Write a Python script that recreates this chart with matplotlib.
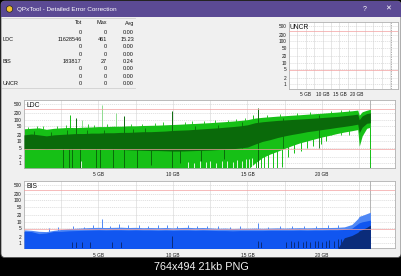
import numpy as np
import matplotlib.pyplot as plt
from matplotlib.patches import FancyBboxPatch, Rectangle, Circle
from matplotlib.ticker import NullLocator

plt.rcParams['font.family'] = ['Liberation Sans', 'DejaVu Sans']

# ---- data ----
tbl_names = ['', 'LDC', '', '', 'BIS', '', '', 'UNCR']
tbl_tot = ['0', '11628546', '0', '0', '183817', '0', '0', '0']
tbl_max = ['0', '461', '0', '0', '27', '0', '0', '0']
tbl_avg = ['0.00', '15.23', '0.00', '0.00', '0.24', '0.00', '0.00', '0.00']

ytick_vals = [1, 2, 5, 10, 20, 50, 100, 200, 500]
ytick_labels = ['1', '2', '5', '10', '20', '50', '100', '200', '500']
xtick_vals = [5, 10, 15, 20]
xtick_labels = ['5 GB', '10 GB', '15 GB', '20 GB']
limit_lines = [300, 4.5]

# position on disc (GB)
gb = [0.0, 0.5, 1.0, 1.5, 2.0, 2.5, 3.0, 3.5, 4.0, 4.5, 5.0, 5.5, 6.0, 6.5,
      7.0, 7.5, 8.0, 8.5, 9.0, 9.5, 10.0, 10.5, 11.0, 11.5, 12.0, 12.5, 13.0,
      13.5, 14.0, 14.5, 15.0, 15.5, 16.0, 16.5, 17.0, 17.5, 18.0, 18.5, 19.0,
      19.5, 20.0, 20.5, 21.0, 21.5, 22.0, 22.4, 22.5, 22.7, 23.0, 23.25]

# LDC light green band (max) and dark green band (avg)
ldc_top = [38, 40, 42, 36, 40, 42, 44, 43, 45, 46, 48, 48, 50, 50, 52, 52, 54,
           55, 56, 58, 60, 62, 65, 67, 70, 73, 77, 81, 86, 92, 100, 118, 128,
           136, 145, 152, 160, 168, 178, 188, 198, 210, 222, 238, 255, 275,
           160, 230, 270, 300]
ldc_bot = [0.5] * 31 + [1.0, 1.8, 2.6, 3.5, 4.8, 6.5, 8.5, 10.5, 13, 16, 19,
                        23, 27, 31, 35, 6, 18, 40, 45]
dark_top = [20, 22, 20, 18, 20, 21, 22, 23, 23, 24, 24, 25, 25, 26, 26, 27, 28,
            28, 29, 30, 32, 33, 34, 36, 38, 40, 42, 45, 48, 52, 58, 72, 80, 86,
            92, 97, 102, 107, 112, 118, 125, 132, 140, 152, 165, 180, 100, 150,
            190, 205]
dark_bot = [4.5, 4.6, 4.5, 4.3, 4.5, 4.6, 4.5, 4.5, 4.6, 4.5, 4.5, 4.5, 4.4,
            4.3, 4.1, 4.0, 3.9, 3.8, 3.8, 3.7, 3.6, 3.6, 3.7, 3.8, 3.9, 4.0,
            4.2, 4.4, 4.6, 5.0, 5.5, 7.5, 10, 12, 15, 18, 21, 24, 28, 31, 35,
            39, 44, 49, 55, 62, 25, 45, 68, 72]

# LDC single spikes
pale_x = [3.9, 5.25, 6.2]
pale_lo = [40, 45, 45]
pale_hi = [100, 480, 200]
light_x = [3.1, 15.4, 23.25, 15.6, 15.9, 16.1, 16.4, 16.7, 17.0, 17.3, 17.7,
           18.1, 18.6, 19.0, 19.4, 19.9, 20.3]
light_lo = [40, 100, 0.5, 0.5, 0.5, 0.5, 0.5, 0.5, 0.6, 0.7, 2.0, 3.0, 3.5,
            5, 6, 8, 10]
light_hi = [170, 170, 48, 2, 3, 3, 4, 4, 5, 5, 6, 8, 10, 12, 14, 18, 20]
fuzz_x = [0.3, 0.9, 1.3, 2.2, 2.8, 4.3, 4.7, 5.6, 7.2, 7.9, 8.8, 9.3, 10.8,
          11.3, 12.1, 12.8, 13.7, 14.2, 14.8, 16.3, 17.2, 18.3, 19.2, 20.6,
          21.3, 21.8]
fuzz_hi = [48, 52, 50, 50, 55, 60, 58, 62, 65, 66, 70, 75, 78, 85, 88, 95,
           100, 108, 120, 165, 185, 200, 225, 250, 275, 290]
dark_x = [2.6, 3.0, 3.2, 3.5, 3.75, 4.8, 5.1, 6.0, 6.7, 7.6, 8.5, 9.95, 10.5,
          11.9, 13.4, 15.7]
dark_lo = [0.5, 0.5, 0.5, 20, 0.5, 0.5, 0.5, 0.5, 0.5, 0.6, 0.8, 0.5, 1.0,
           1.2, 1.5, 0.5]
dark_hi = [5, 5, 5, 125, 5, 5, 5, 5, 150, 5, 4, 240, 4, 4, 5, 340]
dfuzz_x = [0.7, 1.8, 2.9, 4.2, 5.4, 7.3, 8.1, 11.5, 13.0, 14.6, 17.4, 19.8]
dfuzz_hi = [30, 28, 32, 35, 34, 38, 40, 50, 56, 75, 125, 160]
gap_x = [3.8, 11.0, 11.4, 11.8, 12.2, 12.5, 12.9, 13.3, 13.6, 14.0, 14.3,
         14.6, 14.9, 15.1, 15.3]
gap_hi = [1.2, 1.1, 1.0, 1.2, 1.1, 1.3, 1.0, 1.2, 1.3, 1.1, 1.4, 1.2, 1.5,
          1.6, 1.8]

# BIS
bis_top = [4.2, 4.0, 3.6, 3.5, 4.0, 4.4, 4.8, 5.0, 5.2, 5.4, 5.5, 5.4, 5.5,
           5.6, 5.4, 5.5, 5.3, 5.4, 5.3, 5.4, 5.2, 5.4, 5.5, 5.3, 5.4, 5.2,
           5.0, 5.1, 4.9, 5.0, 5.0, 5.1, 5.0, 5.1, 5.2, 5.1, 5.2, 5.3, 5.2,
           5.3, 5.4, 5.4, 5.5, 5.8, 7.5, 14, 18, 20, 24, 28]
bis_mid = [3.6, 3.5, 2.8, 3.0, 3.6, 3.6, 3.8, 3.9, 4.0, 4.1, 4.2, 4.1, 4.2,
           4.2, 4.1, 4.2, 4.1, 4.1, 4.0, 4.1, 4.0, 4.1, 4.1, 4.0, 4.1, 4.0,
           3.9, 3.9, 3.8, 3.9, 3.9, 3.9, 3.9, 4.0, 4.0, 4.0, 4.0, 4.1, 4.0,
           4.1, 4.1, 4.2, 4.2, 4.4, 5.0, 8.0, 9.0, 10, 11, 12]
bis_dark = [0.5] * 43 + [1.8, 2.3, 3.2, 3.8, 4.3, 5.5, 7.0]
bis_spk_x = [1.7, 2.3, 3.3, 4.0, 4.6, 5.25, 5.8, 6.4, 7.0, 7.7, 8.3, 9.0, 9.6,
             10.3, 11.0, 11.6, 12.3, 13.0, 13.8, 14.5, 15.7, 16.4, 17.2, 18.0,
             18.8, 19.6, 20.4, 21.1]
bis_spk_hi = [5.0, 5.5, 6.5, 6.0, 7.0, 14, 6.5, 7.5, 6.8, 7.2, 6.5, 7.0, 6.8,
              6.5, 7.2, 6.6, 6.4, 6.2, 6.0, 6.3, 8.7, 6.0, 6.5, 6.2, 6.4, 6.6,
              6.8, 7.0]
bis_nav_x = [3.2, 3.5, 3.9, 4.4, 5.9, 6.5, 9.95, 15.7, 15.9, 17.6, 17.9, 18.1,
             18.4, 18.7, 18.9, 19.2, 19.5, 19.7, 20.0, 20.3, 20.5, 20.8, 21.1,
             21.3]
bis_nav_hi = [1.2, 1.2, 1.2, 1.2, 1.2, 1.2, 2.2, 1.3, 1.2, 1.2, 1.3, 1.2, 1.3,
              1.2, 1.3, 1.2, 1.3, 1.3, 1.2, 1.3, 1.4, 1.3, 1.5, 1.6]
disc_end = 23.25

# ---- colours ----
PURPLE = '#5b4a94'
LIGHT, DARK, PALE = '#16c016', '#0a6a0a', '#8fdc8f'
BLUE, BLUE_L, NAVY = '#1156f0', '#4f87f5', '#0b2c7a'
TXT = '#141414'

W, H = 402, 276
fig = plt.figure(figsize=(W / 100, H / 100), dpi=100, facecolor='black')

bg = fig.add_axes([0, 0, 1, 1])
bg.set_xlim(0, W)
bg.set_ylim(H, 0)
bg.axis('off')

# window frame + title bar
bg.add_patch(FancyBboxPatch((1, 1), 400, 256.5, boxstyle='round,pad=0,rounding_size=4',
                            fc='#f0f0f0', ec='#555555', lw=0.6))
bg.add_patch(FancyBboxPatch((1, 1), 400, 16, boxstyle='round,pad=0,rounding_size=4',
                            fc=PURPLE, ec='none'))
bg.add_patch(Rectangle((1, 9), 400, 8, fc=PURPLE, ec='none'))
bg.add_patch(Circle((9.5, 9), 3.2, fc='#f2c12e', ec='#222222', lw=0.5))
bg.text(17, 9.3, 'QPxTool - Detailed Error Correction', color='white',
        fontsize=4.6, va='center', ha='left')
bg.text(365, 9.3, '?', color='white', fontsize=5, va='center', ha='center')
bg.text(388, 9.3, '✕', color='white', fontsize=5, va='center', ha='center')

# stats table
bg.plot([2, 135], [18.3, 18.3], color='#d0d0d0', lw=0.6)
bg.plot([2, 135], [87.5, 87.5], color='#d0d0d0', lw=0.6)
for txt, xr in zip(['Tot', 'Max', 'Avg'], [81.7, 106.7, 134]):
    bg.text(xr, 23, txt, fontsize=4.0, ha='right', va='center', color=TXT)
for i in range(len(tbl_names)):
    y = 32.3 + i * 7.3
    bg.text(2.7, y, tbl_names[i], fontsize=4.0, ha='left', va='center', color=TXT)
    bg.text(81.7, y, tbl_tot[i], fontsize=4.0, ha='right', va='center', color=TXT)
    bg.text(106.7, y, tbl_max[i], fontsize=4.0, ha='right', va='center', color=TXT)
    bg.text(134, y, tbl_avg[i], fontsize=4.0, ha='right', va='center', color=TXT)

bg.text(201, 267.5, '764x494 21kb PNG', color='#f2f2f2', fontsize=7.8,
        ha='center', va='center')


def chart(x0, y0, x1, y1, xmax, name, grid_x, xpad):
    ax = fig.add_axes([x0 / W, 1 - y1 / H, (x1 - x0) / W, (y1 - y0) / H])
    ax.set_facecolor('white')
    ax.set_yscale('log')
    ax.set_ylim(0.6, 800)
    ax.set_xlim(0, xmax)
    ax.set_yticks(ytick_vals, ytick_labels)
    ax.yaxis.set_minor_locator(NullLocator())
    ax.set_xticks(xtick_vals, xtick_labels)
    ax.set_xticks(grid_x, minor=True)
    ax.set_axisbelow(True)
    ax.grid(axis='x', which='both', color='#dcdcdc', lw=0.5)
    ax.grid(axis='y', which='major', color='#cccccc', lw=0.4, ls=(0, (2, 1.5)))
    for v in limit_lines:
        ax.axhline(v, color='#f3a0a0', lw=0.5, zorder=6)
    ax.tick_params(which='both', length=0, labelsize=3.4, colors=TXT)
    ax.tick_params(axis='y', pad=1.7)
    ax.tick_params(axis='x', pad=xpad)
    for s in ax.spines.values():
        s.set_color('#b0b0b0')
        s.set_linewidth(0.6)
    ax.text(0.006, 0.975, name, transform=ax.transAxes, fontsize=4.9,
            ha='left', va='top', color=TXT, zorder=7)
    return ax


# UNCR (empty)
ax_u = chart(289, 22, 398, 89, 32.4, 'UNCR',
             [2.5, 7.5, 12.5, 17.5, 22.5, 25, 27.5, 30], 2.4)
ax_u.axvline(30.2, color='#909090', lw=0.5, ls=(0, (2, 1.5)))

# LDC
ax_l = chart(24, 100, 395, 168, 24.9, 'LDC', [2.5, 7.5, 12.5, 17.5, 22.5], 3)
ax_l.axvline(disc_end, color='#a8a8a8', lw=0.6, zorder=1)
ax_l.vlines(pale_x, pale_lo, pale_hi, color=PALE, lw=0.7, zorder=1.8)
ax_l.vlines(light_x, light_lo, light_hi, color=LIGHT, lw=0.7, zorder=1.9)
ax_l.vlines(fuzz_x, 20, fuzz_hi, color=LIGHT, lw=0.6, zorder=1.9)
ax_l.fill_between(gb, ldc_bot, ldc_top, color=LIGHT, lw=0, zorder=2)
ax_l.fill_between(gb, dark_bot, dark_top, color=DARK, lw=0, zorder=3)
ax_l.vlines(dfuzz_x, 5, dfuzz_hi, color=DARK, lw=0.6, zorder=3.1)
ax_l.vlines(dark_x, dark_lo, dark_hi, color=DARK, lw=0.7, zorder=3.2)
ax_l.vlines(gap_x, 0.5, gap_hi, color='white', lw=0.6, zorder=3.5)

# BIS
ax_b = chart(24, 181, 395, 248, 24.9, 'BIS', [2.5, 7.5, 12.5, 17.5, 22.5], 3.6)
ax_b.axvline(disc_end, color='#a8a8a8', lw=0.6, zorder=1)
ax_b.vlines(bis_spk_x, 0.5, bis_spk_hi, color=BLUE_L, lw=0.7, zorder=1.9)
ax_b.fill_between(gb, 0.5, bis_top, color=BLUE_L, lw=0, zorder=2)
ax_b.fill_between(gb, 0.5, bis_mid, color=BLUE, lw=0, zorder=3)
ax_b.fill_between(gb, 0.5, bis_dark, color=NAVY, lw=0, zorder=4)
ax_b.vlines(bis_nav_x, 0.5, bis_nav_hi, color=NAVY, lw=0.7, zorder=4.2)

fig.savefig('out.png', dpi=100, facecolor='black')
